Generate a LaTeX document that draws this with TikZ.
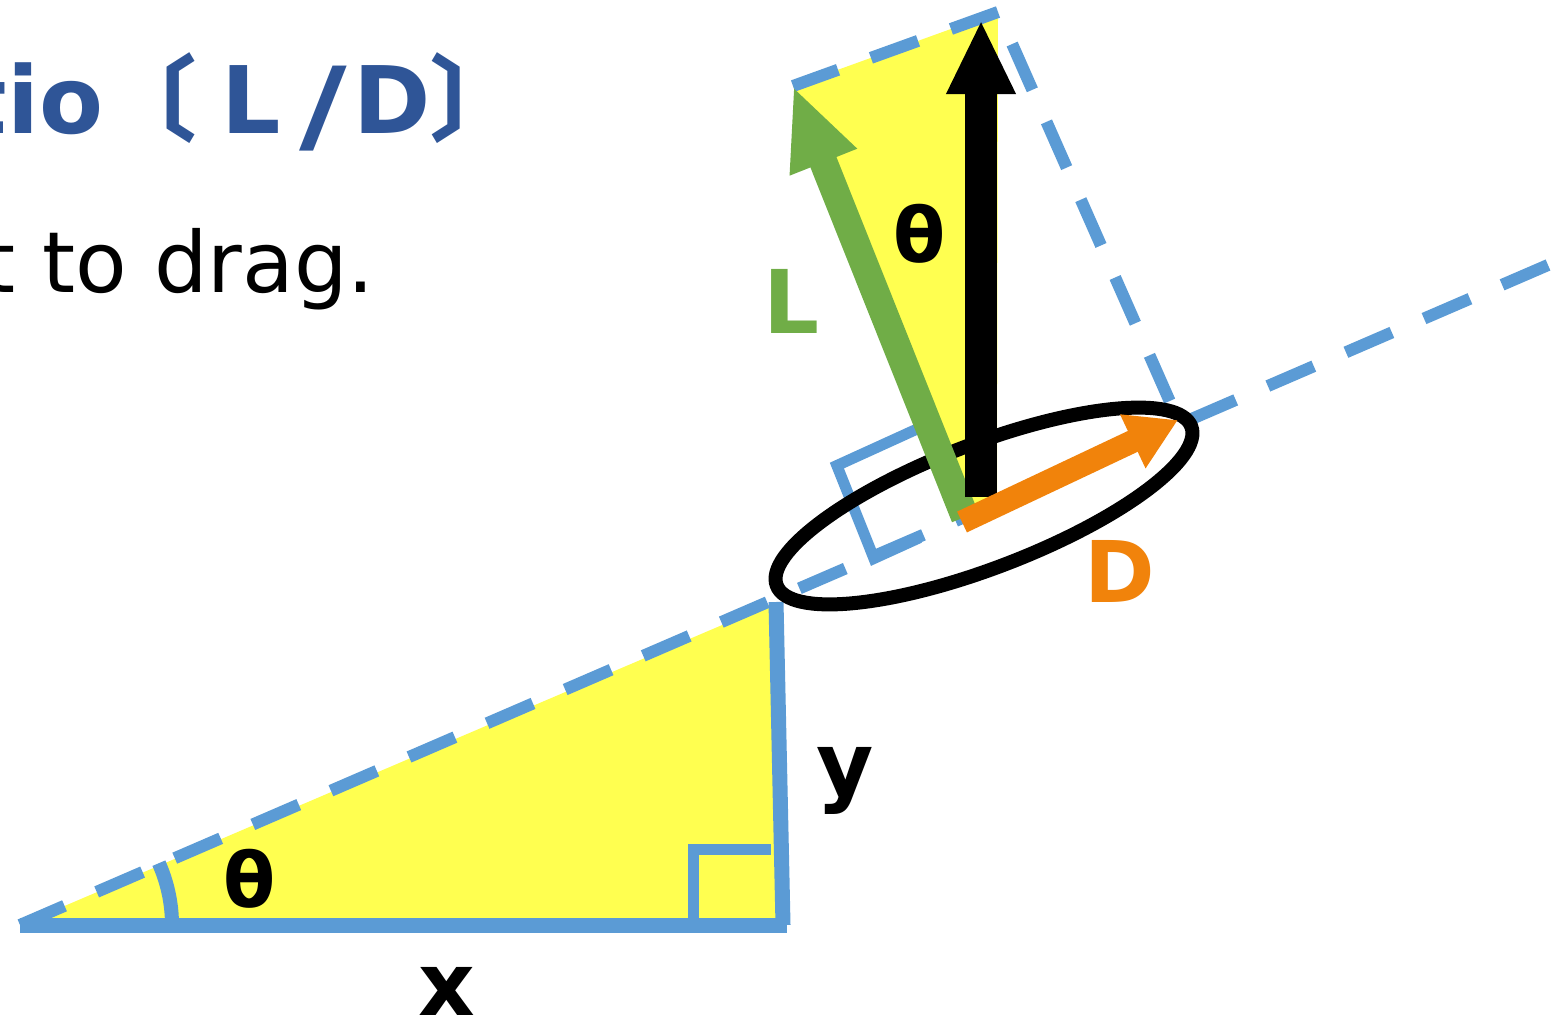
\documentclass[tikz,border=0pt]{standalone}
\usepackage{fontspec}
\setmainfont{DejaVu Sans}
\newfontfamily\cjkfont{Noto Sans CJK JP}
\usepackage{graphicx}
\usepackage{tikz}
\usetikzlibrary{arrows.meta,calc}
\definecolor{skyblue}{RGB}{91,155,213}
\definecolor{titleblue}{RGB}{47,85,151}
\definecolor{liftgreen}{RGB}{112,173,71}
\definecolor{dragorange}{RGB}{241,131,11}
\definecolor{areayellow}{RGB}{255,255,80}

\begin{document}
\begin{tikzpicture}[x=0.01cm, y=-0.01cm,
  dashline/.style={draw=skyblue, line width=0.12cm, dash pattern=on 0.5cm off 0.35cm},
  edgeline/.style={draw=skyblue, line width=0.15cm},
  markline/.style={draw=skyblue, line width=0.11cm},
  lbl/.style={inner sep=0pt, anchor=base, font=\bfseries\fontsize{25}{30}\selectfont}
]
  \path[use as bounding box] (0,0) rectangle (1561,1021);

  % triangle on the ground
  \coordinate (A) at (20,925);
  \coordinate (B) at (783,925);
  \coordinate (C) at (776,602);
  \coordinate (E) at (1548,265);
  % forces on the wing
  \coordinate (O) at (965,517);
  \coordinate (Ltip) at (793,86);
  \coordinate (T) at (998,12);
  \coordinate (P) at (1178,420);
  \coordinate (R0) at (981,497);
  \coordinate (R1) at (981,20);
  \coordinate (W) at (984,506);

  \fill[areayellow] (A) -- (C) -- (B) -- cycle;
  \fill[areayellow] (O) -- (Ltip) -- (T) -- (997,497) -- cycle;

  \draw[dashline] (E) -- (A);
  \draw[dashline] (T) -- (Ltip);
  \draw[dashline, dash phase=0.5cm] (T) -- (P);

  \draw[edgeline] (A) -- (787,925);
  \draw[edgeline] (C) -- (B);
  \draw[markline] (693,925) -- (693,849) -- (771,849);
  \draw[edgeline, line width=0.14cm] ($(A)+(152,0)$) arc[start angle=0, end angle=-24, radius=152];

  % right angle between L and D
  \coordinate (sqa) at ($(O)!1cm!(Ltip)$);
  \coordinate (sqb) at ($(O)!-1cm!(P)$);
  \draw[markline] (sqa) -- ($(sqa)+(sqb)-(O)$) -- (sqb) -- ($(sqb)!0.5!(O)$);

  \draw[line width=0.14cm, rotate around={21:(W)}] (W) ellipse [x radius=222, y radius=62];

  \draw[liftgreen, line width=0.28cm, -{Triangle[length=0.82cm, width=0.66cm]}] (O) -- (Ltip);
  \draw[black, line width=0.32cm, -{Triangle[length=0.74cm, width=0.64cm]}] (R0) -- (R1);
  \draw[dragorange, line width=0.23cm, -{Triangle[length=0.5cm, width=0.56cm]}] (962,522) -- (P);

  \node[lbl, font=\bfseries\fontsize{21.6}{26}\selectfont] (thetaA) at (250,907) {θ};
  \node[lbl, font=\bfseries\fontsize{21.6}{26}\selectfont] (thetaL) at (920,262) {θ};
  \node[lbl, text=liftgreen] (lblL) at (791,333) {L};
  \node[lbl, text=dragorange, font=\bfseries\fontsize{24.2}{29}\selectfont] (lblD) at (1120,602) {D};
  \node[lbl] (lblx) at (447,1015) {x};
  \node[lbl] (lbly) at (845,795) {y};

  \node[anchor=base west, inner sep=0pt, text=titleblue, font=\bfseries\fontsize{26.5}{32}\selectfont] (title) at (-38,133)
    {tio{\cjkfont\bfseries 〔}\kern7.1pt L\kern5.4pt\raisebox{-2.3pt}{\scalebox{1.4}[1.11]{/}}\kern1.7pt D{\cjkfont\bfseries 〕}};
  \node[anchor=base west, inner sep=0pt, font=\fontsize{24}{29}\selectfont] (hint) at (-18,292) {t to drag.};
\end{tikzpicture}
\end{document}
